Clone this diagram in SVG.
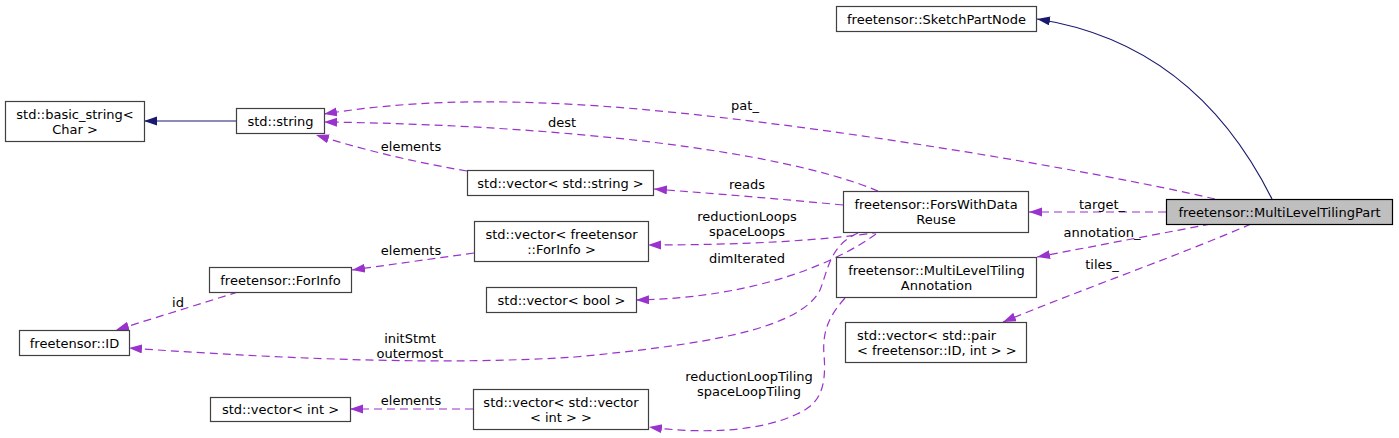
<svg xmlns="http://www.w3.org/2000/svg" width="1399" height="438" viewBox="0 0 1399 438">
<style>
.node rect{fill:#ffffff;stroke:#404040;stroke-width:1.2}
.node text{font-family:"DejaVu Sans","Liberation Sans",sans-serif;font-size:13px;fill:#000;text-anchor:middle}
.main rect{fill:#bfbfbf;stroke:#000}
.lbl{font-family:"DejaVu Sans","Liberation Sans",sans-serif;font-size:13px;fill:#000;text-anchor:middle}
.dep{fill:none;stroke:#9a32cd;stroke-width:1.2;stroke-dasharray:8,5;marker-end:url(#ap)}
.inh{fill:none;stroke:#191970;stroke-width:1.2;marker-end:url(#ab)}
</style>
<defs>
<marker id="ap" markerUnits="userSpaceOnUse" markerWidth="14" markerHeight="10" refX="13" refY="4.5" orient="auto">
<path d="M0,0 L13,4.5 L0,9 z" fill="#9a32cd"/>
</marker>
<marker id="ab" markerUnits="userSpaceOnUse" markerWidth="14" markerHeight="10" refX="13" refY="4.5" orient="auto">
<path d="M0,0 L13,4.5 L0,9 z" fill="#191970"/>
</marker>
</defs>
<rect width="1399" height="438" fill="#ffffff"/>
<g id="edges">
<path class="inh" d="M1272,199 C1230,115 1160,38 1037,19"/>
<path class="inh" d="M236,121 L144,121"/>
<path class="dep" d="M1215,199 C1100,172 800,120 600,106 C480,98 400,102 324,114"/>
<path class="dep" d="M878,191 C780,150 560,125 324,122"/>
<path class="dep" d="M467,171 C420,163 370,152 316,135"/>
<path class="dep" d="M843,205 C780,199 720,194 654,189"/>
<path class="dep" d="M880,232 C820,241 740,245 648,245"/>
<path class="dep" d="M876,234 C840,260 760,298 636,300"/>
<path class="dep" d="M858,233 C830,245 828,270 820,290 C800,330 700,345 575,357 C450,365 300,360 129,348"/>
<path class="dep" d="M845,298 C830,315 822,330 824,355 C827,390 818,405 797,414 C760,432 700,434 649,427"/>
<path class="dep" d="M473,409 L350,409"/>
<path class="dep" d="M474,253 L352,270"/>
<path class="dep" d="M238,292 L116,330"/>
<path class="dep" d="M1166,212 L1029,212"/>
<path class="dep" d="M1211,224 L1037,257"/>
<path class="dep" d="M1251,224 C1180,255 1080,290 1003,322"/>
<text class="lbl" x="745" y="110">pat_</text>
<text class="lbl" x="562" y="127">dest</text>
<text class="lbl" x="411" y="151">elements</text>
<text class="lbl" x="747" y="189">reads</text>
<text class="lbl" x="747" y="221">reductionLoops</text>
<text class="lbl" x="747" y="236">spaceLoops</text>
<text class="lbl" x="411" y="255">elements</text>
<text class="lbl" x="747" y="263">dimIterated</text>
<text class="lbl" x="178" y="307">id</text>
<text class="lbl" x="410" y="343">initStmt</text>
<text class="lbl" x="410" y="358">outermost</text>
<text class="lbl" x="749" y="381">reductionLoopTiling</text>
<text class="lbl" x="749" y="396">spaceLoopTiling</text>
<text class="lbl" x="411" y="405">elements</text>
<text class="lbl" x="1102" y="209">target_</text>
<text class="lbl" x="1102" y="237">annotation_</text>
<text class="lbl" x="1102" y="269">tiles_</text>
</g>
<g id="n_mltpart" class="node main"><rect x="1166.5" y="199.5" width="226" height="25"/><text x="1279.5" y="216.5">freetensor::MultiLevelTilingPart</text></g>
<g id="n_sketch" class="node"><rect x="836.5" y="6.5" width="200" height="25"/><text x="936.5" y="23.5">freetensor::SketchPartNode</text></g>
<g id="n_fors" class="node"><rect x="843.5" y="191.5" width="185" height="41"/><text x="936" y="209">freetensor::ForsWithData</text><text x="936" y="224">Reuse</text></g>
<g id="n_mltann" class="node"><rect x="836.5" y="257.5" width="200" height="40"/><text x="936.5" y="274.5">freetensor::MultiLevelTiling</text><text x="936.5" y="289.5">Annotation</text></g>
<g id="n_vecpair" class="node"><rect x="845.5" y="322.5" width="181" height="40"/><text x="857" y="339.5" style="text-anchor:start">std::vector&lt; std::pair</text><text x="857" y="354.5" style="text-anchor:start">&lt; freetensor::ID, int &gt; &gt;</text></g>
<g id="n_string" class="node"><rect x="236.5" y="108.5" width="88" height="25"/><text x="280.5" y="125.5">std::string</text></g>
<g id="n_basic" class="node"><rect x="5.5" y="101.5" width="139" height="40"/><text x="75" y="118.5">std::basic_string&lt;</text><text x="75" y="133.5">Char &gt;</text></g>
<g id="n_vecstring" class="node"><rect x="467.5" y="170.5" width="186" height="25"/><text x="560.5" y="187.5">std::vector&lt; std::string &gt;</text></g>
<g id="n_vecforinfo" class="node"><rect x="474.5" y="221.5" width="174" height="40"/><text x="561.5" y="238.5">std::vector&lt; freetensor</text><text x="561.5" y="253.5">::ForInfo &gt;</text></g>
<g id="n_forinfo" class="node"><rect x="209.5" y="267.5" width="142" height="25"/><text x="280.5" y="284.5">freetensor::ForInfo</text></g>
<g id="n_vecbool" class="node"><rect x="486.5" y="287.5" width="150" height="25"/><text x="561.5" y="304.5">std::vector&lt; bool &gt;</text></g>
<g id="n_id" class="node"><rect x="19.5" y="330.5" width="110" height="25"/><text x="74.5" y="347.5">freetensor::ID</text></g>
<g id="n_vecint" class="node"><rect x="210.5" y="397.5" width="140" height="24"/><text x="280.5" y="414">std::vector&lt; int &gt;</text></g>
<g id="n_vecvec" class="node"><rect x="473.5" y="389.5" width="175" height="40"/><text x="561" y="406.5">std::vector&lt; std::vector</text><text x="561" y="421.5">&lt; int &gt; &gt;</text></g>
</svg>
